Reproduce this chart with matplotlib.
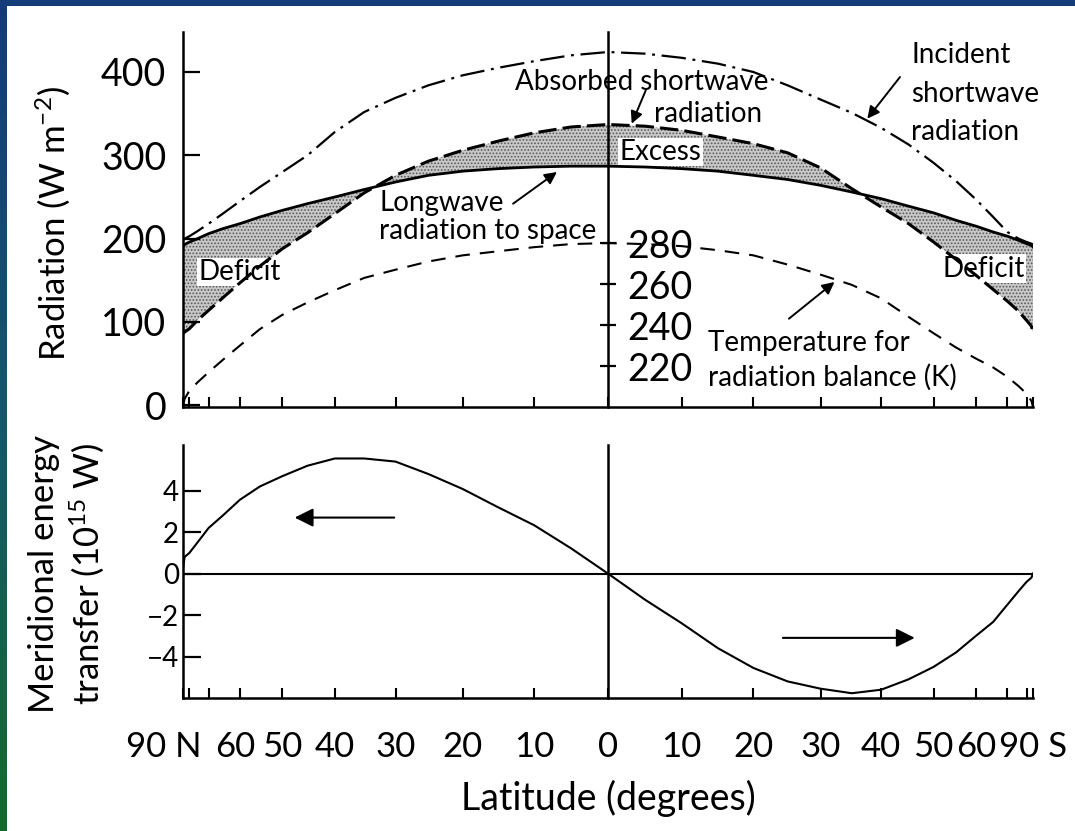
import numpy as np
import matplotlib.pyplot as plt
from matplotlib.colors import LinearSegmentedColormap
from matplotlib.transforms import ScaledTranslation

plt.rcParams['font.family'] = ['Lato', 'DejaVu Sans']
plt.rcParams['mathtext.fontset'] = 'custom'
plt.rcParams['mathtext.rm'] = 'Lato'
plt.rcParams['mathtext.it'] = 'Lato:italic'
plt.rcParams['mathtext.bf'] = 'Lato:bold'
plt.rcParams['hatch.linewidth'] = 0.8

# latitude in degrees, north positive
lat = [90, 85, 80, 75, 70, 65, 60, 55, 50, 45, 40, 35, 30, 25, 20, 15, 10, 5, 0,
       -5, -10, -15, -20, -25, -30, -35, -40, -45, -50, -55, -60, -65, -70, -75, -80, -85, -90]
# radiation, W m-2
incident = [198, 200, 203, 209, 218, 230, 245, 262, 280, 300, 328, 352, 369, 384, 396, 405, 413, 420, 424,
            422, 417, 410, 400, 384, 367, 351, 333, 313, 291, 269, 247, 226, 208, 200, 196, 194, 193]
absorbed = [86, 88, 92, 102, 114, 129, 147, 167, 188, 207, 230, 255, 276, 293, 306, 317, 327, 334, 337,
            335, 330, 322, 314, 303, 285, 260, 238, 218, 196, 175, 156, 139, 125, 113, 102, 95, 88]
longwave = [190, 193, 196, 200, 206, 212, 218, 226, 234, 242, 250, 259, 268, 276, 281, 284, 286, 287, 287,
            286, 284, 281, 276, 271, 264, 256, 248, 239, 231, 222, 215, 208, 203, 198, 194, 192, 190]
# temperature for radiation balance, K
temp = [201, 204, 208, 212, 217, 223, 230, 238, 245, 251, 257, 263, 267, 271, 274, 276, 278, 279.5, 280,
        279.5, 278.5, 276.5, 274, 269.5, 264.6, 259.6, 253, 244, 236, 229, 223.6, 219.3, 214.7, 210.2,
        206.5, 203, 200]
# meridional energy transfer, 10^15 W
flux = [0.25, 0.8, 1.0, 1.5, 2.2, 2.8, 3.56, 4.2, 4.7, 5.2, 5.55, 5.55, 5.4, 4.8, 4.08, 3.2, 2.33, 1.22, 0,
        -1.26, -2.4, -3.6, -4.55, -5.2, -5.55, -5.77, -5.6, -5.1, -4.5, -3.8, -3.0, -2.33, -1.5, -0.85,
        -0.4, -0.2, 0]

tick_lat = [90, 60, 50, 40, 30, 20, 10, 0, -10, -20, -30, -40, -50, -60, -90]
tick_txt = ['90 N', '60', '50', '40', '30', '20', '10', '0',
            '10', '20', '30', '40', '50', '60', '90 S']
minor_lat = [80, 70, -70, -80]


# sine of latitude, with a linear run past the poles
def fwd(x):
    x = np.asarray(x, dtype=float)
    s = np.sin(np.radians(np.clip(x, -90, 90)))
    return np.where(np.abs(x) <= 90, s, np.sign(x) * (1 + (np.abs(x) - 90) / 90))


def inv(y):
    y = np.asarray(y, dtype=float)
    d = np.degrees(np.arcsin(np.clip(y, -1, 1)))
    return np.where(np.abs(y) <= 1, d, np.sign(y) * (90 + (np.abs(y) - 1) * 90))


W, H = 1075, 831
fig = plt.figure(figsize=(W / 100, H / 100), dpi=100)

# blue/green frame
band = fig.add_axes([0, 0, 7 / W, 1])
band.imshow(np.linspace(0, 1, 100).reshape(-1, 1), aspect='auto',
            cmap=LinearSegmentedColormap.from_list('fr', ['#133c78', '#17566c', '#146a2e']))
band.axis('off')
top = fig.add_axes([0, 1 - 6 / H, 1, 6 / H])
top.set_facecolor('#133c78')
top.set_xticks([]); top.set_yticks([])
for s in top.spines.values():
    s.set_visible(False)

ax1 = fig.add_axes([183 / W, 1 - 407 / H, 850 / W, 375 / H])
ax2 = fig.add_axes([183 / W, 1 - 698 / H, 850 / W, 253 / H], sharex=ax1)
ax1.set_xscale('function', functions=(fwd, inv))
ax1.set_xlim(90, -90)

# ---- top panel
ax1.fill_between(lat, absorbed, longwave, facecolor='#c8c8c8', edgecolor='#5a5a5a',
                 hatch='.....', linewidth=0, zorder=1)
ax1.plot(lat, incident, color='k', lw=1.6, ls=(0, (11, 3, 1.3, 3)), zorder=4)
ax1.plot(lat, absorbed, color='k', lw=2.2, ls=(0, (6, 2)), zorder=4)
ax1.plot(lat, longwave, color='k', lw=2.0, zorder=4)
ax1.set_ylim(-2, 448)
ax1.set_yticks([0, 100, 200, 300, 400])
ax1.tick_params(axis='y', direction='in', length=12, width=1.6, labelsize=27, pad=12)
ax1.set_xticks(tick_lat)
ax1.set_xticks(minor_lat, minor=True)
ax1.tick_params(axis='x', which='both', direction='in', length=7, width=1.5,
                labelbottom=False)
for side in ['top', 'right']:
    ax1.spines[side].set_visible(False)
for side in ['left', 'bottom']:
    ax1.spines[side].set_linewidth(1.8)
ax1.set_ylabel('Radiation (W m$^{-2}$)', fontsize=25)
ax1.yaxis.set_label_coords(-0.13, 0.49)

# temperature scale on the equator line
axT = ax1.twinx()
axT.spines['right'].set_position(('data', 0))
axT.spines['right'].set_linewidth(1.8)
for side in ['left', 'top', 'bottom']:
    axT.spines[side].set_visible(False)
axT.plot(lat, temp, color='k', lw=1.5, ls=(0, (7, 4.8)))
axT.set_ylim(200, 383)
axT.set_yticks([220, 240, 260, 280])
axT.tick_params(axis='y', direction='inout', length=12, width=1.6, labelsize=27, pad=8)

box = dict(facecolor='white', edgecolor='none', pad=1)
ax1.text(-1.6, 304, 'Excess', fontsize=20, va='center', ha='left', zorder=3, bbox=box)
ax1.text(60, 160, 'Deficit', fontsize=20, va='center', ha='center', zorder=3, bbox=box)
ax1.text(-62, 164, 'Deficit', fontsize=20, va='center', ha='center', zorder=3, bbox=box)

arrow = dict(arrowstyle='-|>', color='k', lw=1.4, mutation_scale=18, shrinkA=0, shrinkB=0)
ax1.text(12.7, 378, 'Absorbed shortwave', fontsize=20, ha='left', va='baseline', zorder=5)
ax1.text(-6.2, 340, 'radiation', fontsize=20, ha='left', va='baseline', zorder=5)
ax1.annotate('', xy=(-3.2, 338), xytext=(-5.1, 378), arrowprops=arrow, zorder=5)
ax1.text(-45.5, 436, 'Incident\nshortwave\nradiation', fontsize=20, ha='left', va='top',
         linespacing=1.6)
ax1.annotate('', xy=(-37.6, 344), xytext=(-43.4, 394), arrowprops=arrow)
ax1.text(32.6, 259, 'Longwave\nradiation to space', fontsize=20, ha='left', va='top',
         linespacing=1.1, zorder=5)
ax1.annotate('', xy=(6.9, 280), xytext=(12.9, 242), arrowprops=arrow)
ax1.text(-13.6, 91, 'Temperature for\nradiation balance (K)', fontsize=20, ha='left',
         va='top', linespacing=1.4)
ax1.annotate('', xy=(-32.2, 148), xytext=(-25.2, 104), arrowprops=arrow)

# ---- bottom panel
ax2.spines['top'].set_visible(False)
ax2.spines['right'].set_position(('data', 0))
for side in ['left', 'bottom', 'right']:
    ax2.spines[side].set_linewidth(1.8)
ax2.plot(lat, flux, color='k', lw=1.5)
ax2.axhline(0, color='k', lw=1.5)
ax2.set_ylim(-6, 6.2)
ax2.set_yticks([-4, -2, 0, 2, 4])
ax2.tick_params(axis='y', direction='in', length=13, width=1.6, labelsize=20, pad=3)
ax2.set_xticks(tick_lat, tick_txt)
ax2.set_xticks(minor_lat, minor=True)
ax2.tick_params(axis='x', which='both', direction='in', length=7, width=1.5,
                labelsize=25, pad=24)
lbls = ax2.get_xticklabels()
lbls[0].set_ha('right')
lbls[0].set_transform(lbls[0].get_transform() + ScaledTranslation(0.18, 0, fig.dpi_scale_trans))
lbls[1].set_transform(lbls[1].get_transform() + ScaledTranslation(-0.05, 0, fig.dpi_scale_trans))
ax2.set_ylabel('Meridional energy\ntransfer (10$^{15}$ W)', fontsize=25, linespacing=1.25)
ax2.yaxis.set_label_coords(-0.09, 0.49)
ax2.set_xlabel('Latitude (degrees)', fontsize=27, labelpad=12)

harrow = dict(arrowstyle='-|>', color='k', lw=1.5, mutation_scale=28, shrinkA=0, shrinkB=0)
ax2.annotate('', xy=(47.5, 2.7), xytext=(30.2, 2.7), arrowprops=harrow)
ax2.annotate('', xy=(-46.2, -3.1), xytext=(-24.3, -3.1), arrowprops=harrow)

fig.savefig('out.png', dpi=100)
